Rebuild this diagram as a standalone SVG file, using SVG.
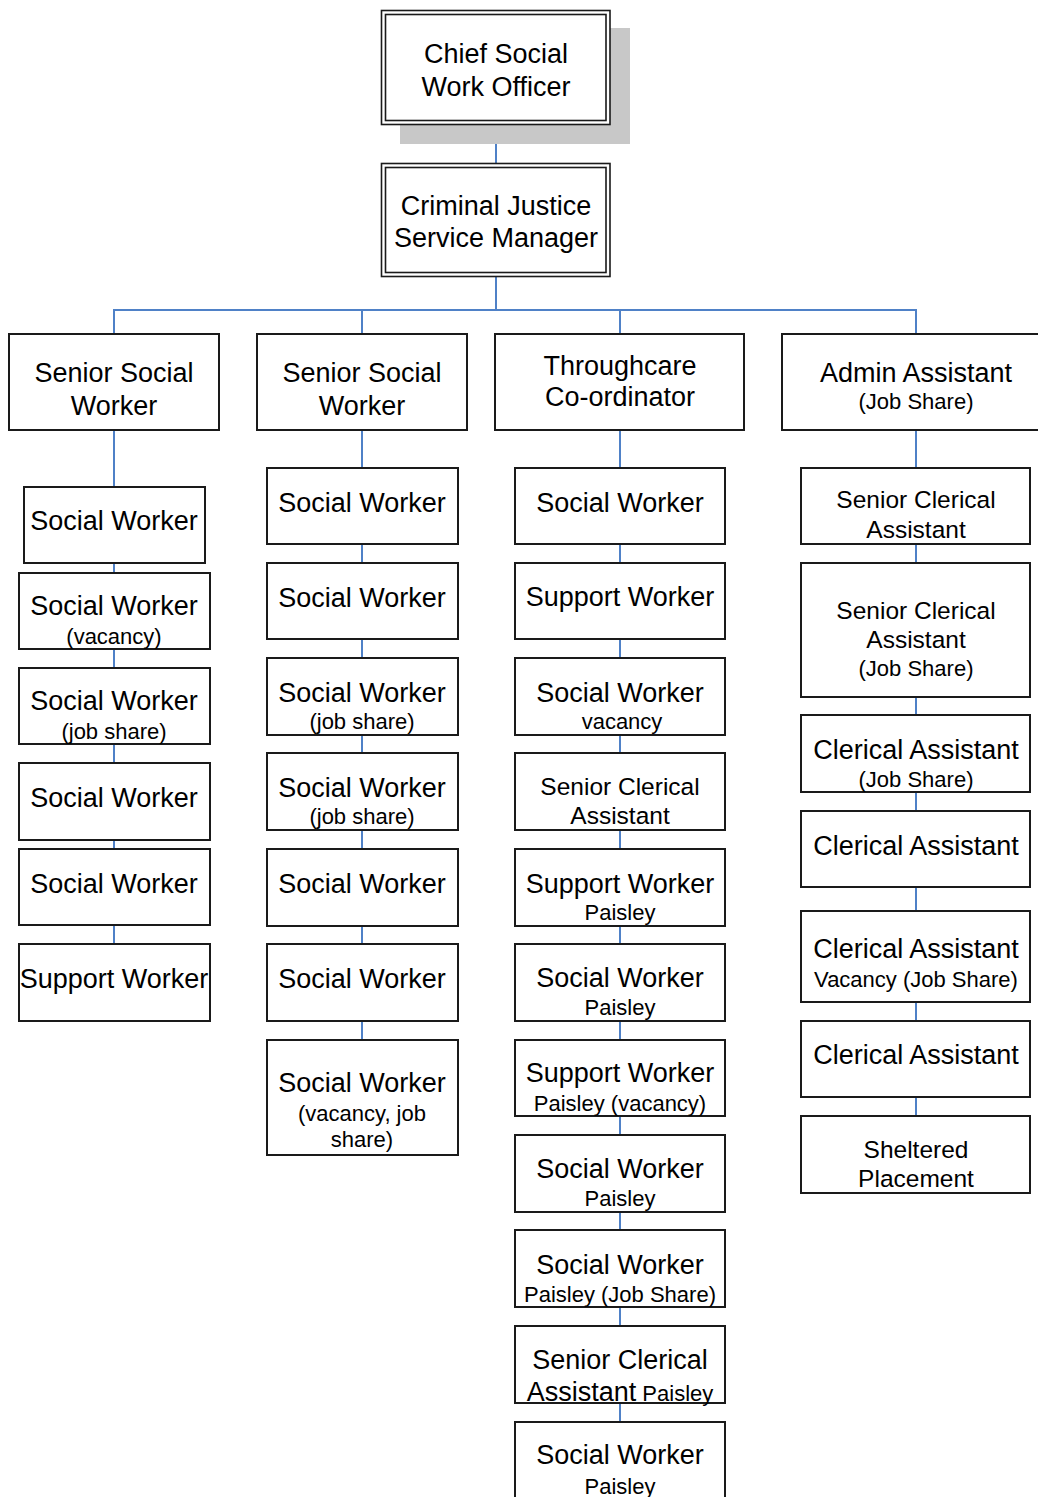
<svg xmlns="http://www.w3.org/2000/svg" width="1038" height="1497" viewBox="0 0 1038 1497">
<style>
.b{fill:#fff;stroke:#1a1a1a;stroke-width:2}
.d{fill:#fff;stroke:#1a1a1a;stroke-width:1.6}
.c{fill:none;stroke:#4f81c7;stroke-width:2}
text{font-family:"Liberation Sans",Arial,sans-serif;fill:#000;text-anchor:middle}
.l{font-size:27px}
.m{font-size:24.5px}
.s{font-size:22px}
</style>
<rect width="1038" height="1497" fill="#fff"/>
<g id="connectors">
<line class="c" x1="496" y1="124" x2="496" y2="163"/>
<line class="c" x1="496" y1="277" x2="496" y2="310"/>
<polyline class="c" points="114,334 114,310 916,310 916,334"/>
<line class="c" x1="362" y1="310" x2="362" y2="334"/>
<line class="c" x1="620" y1="310" x2="620" y2="334"/>
<line class="c" x1="114" y1="430" x2="114" y2="944"/>
<line class="c" x1="362" y1="430" x2="362" y2="1040"/>
<line class="c" x1="620" y1="430" x2="620" y2="1497"/>
<line class="c" x1="916" y1="430" x2="916" y2="1116"/>
</g>
<g id="n-chief">
<rect x="400" y="28" width="230" height="116" fill="#c8c8c8"/>
<rect class="d" x="381.5" y="10.5" width="228.5" height="114"/>
<rect class="d" x="385.5" y="14.5" width="220.5" height="106"/>
<text class="l" x="496" y="63">Chief Social</text>
<text class="l" x="496" y="96">Work Officer</text>
</g>
<g id="n-cjsm">
<rect class="d" x="381.5" y="163.5" width="228.5" height="113"/>
<rect class="d" x="385.5" y="167.5" width="220.5" height="105"/>
<text class="l" x="496" y="215">Criminal Justice</text>
<text class="l" x="496" y="247">Service Manager</text>
</g>
<g id="n-ssw1">
<rect class="b" x="9" y="334" width="210" height="96"/>
<text class="l" x="114" y="382">Senior Social</text>
<text class="l" x="114" y="415">Worker</text>
</g>
<g id="n-ssw2">
<rect class="b" x="257" y="334" width="210" height="96"/>
<text class="l" x="362" y="382">Senior Social</text>
<text class="l" x="362" y="415">Worker</text>
</g>
<g id="n-tc">
<rect class="b" x="495" y="334" width="249" height="96"/>
<text class="l" x="620" y="375">Throughcare</text>
<text class="l" x="620" y="406">Co-ordinator</text>
</g>
<g id="n-admin">
<rect class="b" x="782" y="334" width="270" height="96"/>
<text class="l" x="916" y="382">Admin Assistant</text>
<text class="s" x="916" y="409">(Job Share)</text>
</g>
<g id="n-c1-1"><rect class="b" x="24" y="487" width="181" height="76"/><text class="l" x="114" y="530">Social Worker</text></g>
<g id="n-c1-2"><rect class="b" x="19" y="573" width="191" height="76"/><text class="l" x="114" y="615">Social Worker</text><text class="s" x="114" y="644">(vacancy)</text></g>
<g id="n-c1-3"><rect class="b" x="19" y="668" width="191" height="76"/><text class="l" x="114" y="710">Social Worker</text><text class="s" x="114" y="739">(job share)</text></g>
<g id="n-c1-4"><rect class="b" x="19" y="763" width="191" height="77"/><text class="l" x="114" y="807">Social Worker</text></g>
<g id="n-c1-5"><rect class="b" x="19" y="849" width="191" height="76"/><text class="l" x="114" y="893">Social Worker</text></g>
<g id="n-c1-6"><rect class="b" x="19" y="944" width="191" height="77"/><text class="l" x="114" y="988">Support Worker</text></g>
<g id="n-c2-1"><rect class="b" x="267" y="468" width="191" height="76"/><text class="l" x="362" y="512">Social Worker</text></g>
<g id="n-c2-2"><rect class="b" x="267" y="563" width="191" height="76"/><text class="l" x="362" y="607">Social Worker</text></g>
<g id="n-c2-3"><rect class="b" x="267" y="658" width="191" height="77"/><text class="l" x="362" y="702">Social Worker</text><text class="s" x="362" y="729">(job share)</text></g>
<g id="n-c2-4"><rect class="b" x="267" y="753" width="191" height="77"/><text class="l" x="362" y="797">Social Worker</text><text class="s" x="362" y="824">(job share)</text></g>
<g id="n-c2-5"><rect class="b" x="267" y="849" width="191" height="77"/><text class="l" x="362" y="893">Social Worker</text></g>
<g id="n-c2-6"><rect class="b" x="267" y="944" width="191" height="77"/><text class="l" x="362" y="988">Social Worker</text></g>
<g id="n-c2-7"><rect class="b" x="267" y="1040" width="191" height="115"/><text class="l" x="362" y="1092">Social Worker</text><text class="s" x="362" y="1121">(vacancy, job</text><text class="s" x="362" y="1147">share)</text></g>
<g id="n-c3-1"><rect class="b" x="515" y="468" width="210" height="76"/><text class="l" x="620" y="512">Social Worker</text></g>
<g id="n-c3-2"><rect class="b" x="515" y="563" width="210" height="76"/><text class="l" x="620" y="606">Support Worker</text></g>
<g id="n-c3-3"><rect class="b" x="515" y="658" width="210" height="77"/><text class="l" x="620" y="702">Social Worker</text><text class="s" x="622" y="729">vacancy</text></g>
<g id="n-c3-4"><rect class="b" x="515" y="753" width="210" height="77"/><text class="m" x="620" y="795">Senior Clerical</text><text class="m" x="620" y="824">Assistant</text></g>
<g id="n-c3-5"><rect class="b" x="515" y="849" width="210" height="77"/><text class="l" x="620" y="893">Support Worker</text><text class="s" x="620" y="920">Paisley</text></g>
<g id="n-c3-6"><rect class="b" x="515" y="944" width="210" height="77"/><text class="l" x="620" y="987">Social Worker</text><text class="s" x="620" y="1015">Paisley</text></g>
<g id="n-c3-7"><rect class="b" x="515" y="1040" width="210" height="76"/><text class="l" x="620" y="1082">Support Worker</text><text class="s" x="620" y="1111">Paisley (vacancy)</text></g>
<g id="n-c3-8"><rect class="b" x="515" y="1135" width="210" height="77"/><text class="l" x="620" y="1178">Social Worker</text><text class="s" x="620" y="1206">Paisley</text></g>
<g id="n-c3-9"><rect class="b" x="515" y="1230" width="210" height="77"/><text class="l" x="620" y="1274">Social Worker</text><text class="s" x="620" y="1302">Paisley (Job Share)</text></g>
<g id="n-c3-10"><rect class="b" x="515" y="1326" width="210" height="77"/><text class="l" x="620" y="1369">Senior Clerical</text><text x="620" y="1401"><tspan class="l">Assistant</tspan><tspan class="s"> Paisley</tspan></text></g>
<g id="n-c3-11"><rect class="b" x="515" y="1422" width="210" height="90"/><text class="l" x="620" y="1464">Social Worker</text><text class="s" x="620" y="1494">Paisley</text></g>
<g id="n-c4-1"><rect class="b" x="801" y="468" width="229" height="76"/><text class="m" x="916" y="508">Senior Clerical</text><text class="m" x="916" y="538">Assistant</text></g>
<g id="n-c4-2"><rect class="b" x="801" y="563" width="229" height="134"/><text class="m" x="916" y="619">Senior Clerical</text><text class="m" x="916" y="648">Assistant</text><text class="s" x="916" y="676">(Job Share)</text></g>
<g id="n-c4-3"><rect class="b" x="801" y="715" width="229" height="77"/><text class="l" x="916" y="759">Clerical Assistant</text><text class="s" x="916" y="787">(Job Share)</text></g>
<g id="n-c4-4"><rect class="b" x="801" y="811" width="229" height="76"/><text class="l" x="916" y="855">Clerical Assistant</text></g>
<g id="n-c4-5"><rect class="b" x="801" y="911" width="229" height="91"/><text class="l" x="916" y="958">Clerical Assistant</text><text class="s" x="916" y="987">Vacancy (Job Share)</text></g>
<g id="n-c4-6"><rect class="b" x="801" y="1021" width="229" height="76"/><text class="l" x="916" y="1064">Clerical Assistant</text></g>
<g id="n-c4-7"><rect class="b" x="801" y="1116" width="229" height="77"/><text class="m" x="916" y="1158">Sheltered</text><text class="m" x="916" y="1187">Placement</text></g>
</svg>
